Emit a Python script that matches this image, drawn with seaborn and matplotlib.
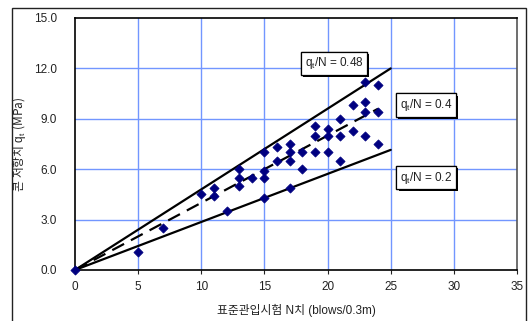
import matplotlib
matplotlib.use("Agg")
import matplotlib.pyplot as plt
import matplotlib.patheffects as pe
from matplotlib.patches import Rectangle
import seaborn as sns
import pandas as pd

# ---- data ----
n_values = [0, 5, 7, 10, 11, 11, 12, 13, 13, 13, 14, 15, 15, 15, 15, 16, 16,
            17, 17, 17, 17, 18, 18, 19, 19, 19, 20, 20, 20, 21, 21, 21, 22, 22,
            23, 23, 23, 23, 24, 24, 24]
qt_values = [0, 1.1, 2.5, 4.5, 4.9, 4.4, 3.5, 6.0, 5.5, 5.0, 5.5, 7.0, 5.9, 5.5,
             4.3, 7.3, 6.5, 7.5, 7.0, 6.5, 4.9, 7.0, 6.0, 8.6, 8.0, 7.0, 8.4,
             8.0, 7.0, 9.0, 8.0, 6.5, 9.8, 8.3, 11.2, 10.0, 9.4, 8.0, 11.0, 9.4, 7.5]

upper_x = [0, 25]
upper_y = [0, 12.0]
mid_x = [0, 24]
mid_y = [0, 9.6]
lower_x = [0, 25]
lower_y = [0, 7.15]

ratio_labels = ["0.48", "0.4", "0.2"]
label_pos_x = [20.5, 27.8, 27.8]
label_pos_y = [12.3, 9.82, 5.5]

x_ticks = [0, 5, 10, 15, 20, 25, 30, 35]
y_ticks = [0.0, 3.0, 6.0, 9.0, 12.0, 15.0]
x_label = "표준관입시험 N치 (blows/0.3m)"
y_label = "콘$\\ $저항치$\\ \\mathrm{q_t}\\ $(MPa)"

# ---- style ----
sns.set_theme(style="white")
plt.rcParams['font.family'] = ['Liberation Sans', 'Noto Sans CJK KR', 'DejaVu Sans']
plt.rcParams['mathtext.fontset'] = 'custom'
plt.rcParams['mathtext.rm'] = 'Liberation Sans'
plt.rcParams['mathtext.it'] = 'Liberation Sans'

W, H = 530, 321
fig = plt.figure(figsize=(W / 100, H / 100), dpi=100)
fig.patch.set_facecolor('white')
ax = fig.add_axes([75 / W, 1 - 270 / H, (517 - 75) / W, (270 - 18) / H])

df = pd.DataFrame({"N": n_values, "qt": qt_values})

grid_color = '#7296ff'
for xv in x_ticks[1:-1]:
    ax.axvline(xv, color=grid_color, lw=1, zorder=0)
for yv in y_ticks[1:-1]:
    ax.axhline(yv, color=grid_color, lw=1, zorder=0)

sns.lineplot(x=upper_x, y=upper_y, ax=ax, color='black', lw=1.6, zorder=2)
sns.lineplot(x=lower_x, y=lower_y, ax=ax, color='black', lw=1.6, zorder=2)
sns.lineplot(x=mid_x, y=mid_y, ax=ax, color='black', lw=1.6, zorder=2)
ax.lines[-1].set_dashes([6, 3.5])

sns.scatterplot(data=df, x="N", y="qt", ax=ax, marker='D', s=22,
                color='#000080', edgecolor='#000080', linewidth=0.5,
                zorder=3, clip_on=False)

ax.set_xlim(0, 35)
ax.set_ylim(0, 15)
ax.set_xticks(x_ticks)
ax.set_xticklabels([str(v) for v in x_ticks])
ax.set_yticks(y_ticks)
ax.set_yticklabels([f"{v:.1f}" for v in y_ticks])
ax.tick_params(axis='both', labelsize=8.5, colors='#222222', length=3,
               width=0.8, direction='out')
ax.tick_params(axis='y', pad=13, length=0)
ax.tick_params(axis='x', pad=5)
ax.tick_params(axis='both', left=True, bottom=True)

for side in ['left', 'bottom', 'top', 'right']:
    ax.spines[side].set_visible(True)
    ax.spines[side].set_color('black')
    ax.spines[side].set_linewidth(1.2)
ax.spines['right'].set_color('#555555')

ax.set_xlabel(x_label, fontsize=8.5, color='#222222', labelpad=8)
ax.set_ylabel(y_label, fontsize=8.5, color='#222222', labelpad=4,
              family='Noto Sans CJK KR')

for lab, lx, ly in zip(ratio_labels, label_pos_x, label_pos_y):
    ax.text(lx, ly, f"$\\mathrm{{q_t}}$/N = {lab}", fontsize=8.5, ha='center',
            va='center', color='#222222', zorder=5, clip_on=False,
            bbox=dict(boxstyle='square,pad=0.3', fc='white', ec='black', lw=0.9,
                      path_effects=[pe.withSimplePatchShadow(offset=(1.5, -1.5),
                                                             shadow_rgbFace='black',
                                                             alpha=1),
                                    pe.Normal()]))

# outer frame
fig.patches.append(Rectangle((12 / W, -5 / H), (526 - 12) / W, (H - 8 + 5) / H,
                             transform=fig.transFigure, fill=False,
                             ec='#222222', lw=1.0))

fig.savefig("out.png", dpi=100)
